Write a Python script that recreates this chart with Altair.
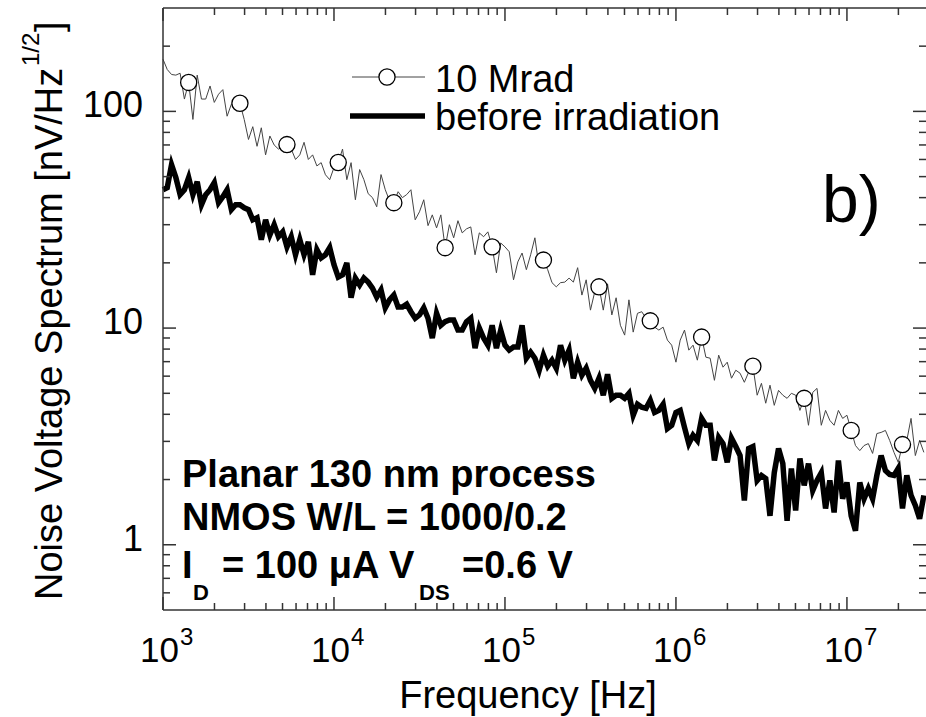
import altair as alt
import pandas as pd

# ---------------- data ----------------
FREQ = [
    1000, 1059, 1122, 1189, 1259, 1334, 1413, 1496, 1585, 1679,
    1778, 1884, 1995, 2113, 2239, 2371, 2512, 2661, 2818, 2985,
    3162, 3350, 3548, 3758, 3981, 4217, 4467, 4732, 5012, 5309,
    5623, 5957, 6310, 6683, 7079, 7499, 7943, 8414, 8913, 9441,
    1.000e4, 1.059e4, 1.122e4, 1.189e4, 1.259e4, 1.334e4, 1.413e4, 1.496e4, 1.585e4, 1.679e4,
    1.778e4, 1.884e4, 1.995e4, 2.113e4, 2.239e4, 2.371e4, 2.512e4, 2.661e4, 2.818e4, 2.985e4,
    3.162e4, 3.350e4, 3.548e4, 3.758e4, 3.981e4, 4.217e4, 4.467e4, 4.732e4, 5.012e4, 5.309e4,
    5.623e4, 5.957e4, 6.310e4, 6.683e4, 7.079e4, 7.499e4, 7.943e4, 8.414e4, 8.913e4, 9.441e4,
    1.000e5, 1.059e5, 1.122e5, 1.189e5, 1.259e5, 1.334e5, 1.413e5, 1.496e5, 1.585e5, 1.679e5,
    1.778e5, 1.884e5, 1.995e5, 2.113e5, 2.239e5, 2.371e5, 2.512e5, 2.661e5, 2.818e5, 2.985e5,
    3.162e5, 3.350e5, 3.548e5, 3.758e5, 3.981e5, 4.217e5, 4.467e5, 4.732e5, 5.012e5, 5.309e5,
    5.623e5, 5.957e5, 6.310e5, 6.683e5, 7.079e5, 7.499e5, 7.943e5, 8.414e5, 8.913e5, 9.441e5,
    1.000e6, 1.059e6, 1.122e6, 1.189e6, 1.259e6, 1.334e6, 1.413e6, 1.496e6, 1.585e6, 1.679e6,
    1.778e6, 1.884e6, 1.995e6, 2.113e6, 2.239e6, 2.371e6, 2.512e6, 2.661e6, 2.818e6, 2.985e6,
    3.162e6, 3.350e6, 3.548e6, 3.758e6, 3.981e6, 4.217e6, 4.467e6, 4.732e6, 5.012e6, 5.309e6,
    5.623e6, 5.957e6, 6.310e6, 6.683e6, 7.079e6, 7.499e6, 7.943e6, 8.414e6, 8.913e6, 9.441e6,
    1.000e7, 1.059e7, 1.122e7, 1.189e7, 1.259e7, 1.334e7, 1.413e7, 1.496e7, 1.585e7, 1.679e7,
    1.778e7, 1.884e7, 1.995e7, 2.113e7, 2.239e7, 2.371e7, 2.512e7, 2.661e7, 2.818e7,
]

MRAD_10 = [
    174, 156, 148, 147, 150, 114, 136, 91.8, 147, 114,
    114, 131, 110, 120, 126, 95, 108, 104, 109, 91.8,
    74.2, 85, 69, 84, 63, 77, 70, 67, 69, 70.3,
    67, 60, 63, 72, 60, 63, 56, 58, 51, 48.4,
    55, 58.1, 67, 48.4, 58, 39.1, 53.9, 48.4, 41.7, 40.0,
    36.3, 51.1, 43.5, 38.7, 37.9, 42.6, 40.0, 41.3, 43.5, 31.6,
    34.4, 39.1, 29.7, 33.3, 29.0, 33.3, 23.5, 30.0, 26.1, 31.3,
    27.5, 28.7, 29.3, 21.8, 27.5, 26.4, 27.8, 23.7, 18.0, 24.7,
    23.7, 22.5, 16.7, 20.2, 22.2, 18.6, 21.8, 26.1, 19.0, 20.6,
    18.6, 16.2, 15.5, 16.2, 16.3, 17.0, 16.3, 19.0, 14.2, 16.7,
    12.1, 14.7, 15.5, 12.1, 16.0, 11.5, 13.8, 10.3, 9.28, 13.5,
    9.58, 11.7, 11.9, 11.1, 10.8, 10.1, 9.79, 10.1, 8.80, 8.34,
    6.96, 8.80, 9.79, 7.91, 8.34, 7.11, 9.09, 7.34, 7.26, 5.74,
    7.50, 6.60, 6.96, 5.87, 6.39, 6.19, 5.62, 6.26, 6.67, 4.90,
    5.56, 4.50, 5.45, 4.40, 5.16, 4.90, 4.74, 5.00, 4.90, 4.17,
    4.74, 3.56, 5.05, 5.27, 3.56, 4.17, 3.75, 3.56, 4.17, 3.83,
    3.96, 3.37, 2.87, 2.72, 2.87, 2.93, 2.64, 3.26, 3.30, 3.37,
    3.03, 2.67, 2.40, 2.90, 3.03, 3.83, 2.58, 3.03, 2.67,
]

BEFORE = [
    43.5, 44.5, 56.8, 49.5, 41.3, 43.5, 49.5, 41.3, 47.4, 37.1,
    41.3, 43.5, 46.9, 37.9, 40.4, 43.5, 35.2, 37.1, 37.1, 35.9,
    35.2, 31.6, 32.3, 25.6, 31.6, 26.9, 30.0, 26.4, 27.8, 23.7,
    26.4, 21.8, 25.6, 21.8, 25.0, 17.6, 23.0, 21.1, 21.8, 23.5,
    19.6, 17.2, 17.6, 20.0, 13.8, 17.0, 15.8, 17.0, 16.3, 15.3,
    13.9, 15.0, 12.4, 13.5, 14.2, 12.5, 12.5, 12.9, 11.9, 11.1,
    11.5, 12.4, 11.1, 8.99, 11.7, 10.3, 10.7, 10.9, 10.9, 9.79,
    9.79, 10.7, 11.1, 8.08, 10.0, 8.99, 8.34, 10.3, 8.08, 9.79,
    8.34, 7.91, 8.17, 8.17, 10.3, 7.26, 7.74, 7.26, 6.39, 7.50,
    6.67, 7.11, 6.53, 8.34, 7.11, 7.91, 5.87, 6.96, 6.06, 6.53,
    5.74, 5.27, 5.87, 4.90, 6.12, 4.74, 4.90, 4.90, 4.74, 5.00,
    3.96, 4.45, 4.31, 4.26, 4.64, 4.08, 4.17, 4.45, 3.44, 3.56,
    4.08, 4.17, 3.48, 2.93, 3.20, 3.03, 3.83, 3.56, 3.56, 2.45,
    3.13, 2.93, 2.40, 3.10, 2.84, 2.58, 1.60, 2.78, 2.84, 1.98,
    2.09, 2.02, 1.36, 2.15, 2.78, 2.37, 1.29, 2.25, 1.44, 2.50,
    1.88, 2.37, 1.78, 1.98, 2.15, 1.47, 1.98, 1.41, 2.45, 1.63,
    1.94, 1.36, 1.16, 1.94, 1.63, 1.82, 1.63, 2.09, 2.58, 2.20,
    2.11, 2.09, 2.25, 1.47, 2.09, 1.69, 1.52, 1.32, 1.69,
]

MARK_FREQ = [1413, 2818, 5309, 1.059e4, 2.239e4, 4.467e4, 8.414e4, 1.679e5,
             3.548e5, 7.079e5, 1.413e6, 2.818e6, 5.623e6, 1.059e7, 2.113e7]
MARK_VAL = [136, 109, 70.3, 58.1, 37.9, 23.5, 23.7, 20.6,
            15.5, 10.8, 9.09, 6.67, 4.74, 3.37, 2.90]

X_MAJOR = [1e3, 1e4, 1e5, 1e6, 1e7]
X_MAJOR_EXP = ["3", "4", "5", "6", "7"]
X_MINOR = [2e3, 3e3, 4e3, 5e3, 6e3, 7e3, 8e3, 9e3,
           2e4, 3e4, 4e4, 5e4, 6e4, 7e4, 8e4, 9e4,
           2e5, 3e5, 4e5, 5e5, 6e5, 7e5, 8e5, 9e5,
           2e6, 3e6, 4e6, 5e6, 6e6, 7e6, 8e6, 9e6,
           2e7]
Y_MAJOR = [1, 10, 100]
Y_MAJOR_LABEL = ["1", "10", "100"]
Y_MINOR = [0.6, 0.7, 0.8, 0.9, 2, 3, 4, 5, 6, 7, 8, 9,
           20, 30, 40, 50, 60, 70, 80, 90, 200]

# ---------------- chart ----------------
W, H = 763, 602
FONT = "Liberation Sans"
AX = "#333333"
xs = alt.Scale(type="log", domain=[1000, 2.9e7])
ys = alt.Scale(type="log", domain=[0.5, 300])

df = pd.DataFrame({"f": FREQ, "mrad": MRAD_10, "before": BEFORE})
mk = pd.DataFrame({"f": MARK_FREQ, "v": MARK_VAL})

thin = alt.Chart(df).mark_line(color="#444444", strokeWidth=1).encode(
    x=alt.X("f:Q", scale=xs, axis=None),
    y=alt.Y("mrad:Q", scale=ys, axis=None),
)
marks = alt.Chart(mk).mark_point(
    shape="circle", filled=True, fill="white", stroke="black",
    strokeWidth=1.3, size=260, opacity=1,
).encode(x=alt.X("f:Q", scale=xs, axis=None), y=alt.Y("v:Q", scale=ys, axis=None))
thick = alt.Chart(df).mark_line(color="black", strokeWidth=5.5).encode(
    x=alt.X("f:Q", scale=xs, axis=None),
    y=alt.Y("before:Q", scale=ys, axis=None),
)


def xticks(vals, length, top):
    y0, y1 = (0, length) if top else (H, H - length)
    return alt.Chart(pd.DataFrame({"v": vals})).mark_rule(color=AX, strokeWidth=1.5).encode(
        x=alt.X("v:Q", scale=xs, axis=None), y=alt.value(y0), y2=alt.value(y1))


def yticks(vals, length, right):
    x0, x1 = (W, W - length) if right else (0, length)
    return alt.Chart(pd.DataFrame({"v": vals})).mark_rule(color=AX, strokeWidth=1.5).encode(
        y=alt.Y("v:Q", scale=ys, axis=None), x=alt.value(x0), x2=alt.value(x1))


ticks = [
    xticks(X_MAJOR, 13, False), xticks(X_MINOR, 7, False),
    xticks(X_MAJOR, 13, True), xticks(X_MINOR, 7, True),
    yticks(Y_MAJOR, 13, False), yticks(Y_MINOR, 7, False),
    yticks(Y_MAJOR, 13, True), yticks(Y_MINOR, 7, True),
]

dummy = pd.DataFrame({"a": [0]})
frame = [
    alt.Chart(dummy).mark_rule(color=AX, strokeWidth=1.5).encode(
        x=alt.value(0), x2=alt.value(W + 2), y=alt.value(0)),
    alt.Chart(dummy).mark_rule(color=AX, strokeWidth=1.5).encode(
        x=alt.value(0), x2=alt.value(W + 2), y=alt.value(H)),
    alt.Chart(dummy).mark_rule(color=AX, strokeWidth=1.5).encode(
        x=alt.value(0), y=alt.value(0), y2=alt.value(H)),
]

xl = pd.DataFrame({"v": X_MAJOR, "e": X_MAJOR_EXP})
xlab10 = alt.Chart(xl).mark_text(
    text="10", align="right", baseline="alphabetic", dx=16, fontSize=35, font=FONT, color="black"
).encode(x=alt.X("v:Q", scale=xs, axis=None), y=alt.value(654))
xlabexp = alt.Chart(xl).mark_text(
    align="left", baseline="alphabetic", dx=17, fontSize=24, font=FONT, color="black"
).encode(x=alt.X("v:Q", scale=xs, axis=None), y=alt.value(637), text="e:N")

yl = pd.DataFrame({"v": Y_MAJOR, "l": Y_MAJOR_LABEL})
ylab = alt.Chart(yl).mark_text(
    align="right", baseline="alphabetic", dy=6, fontSize=36, font=FONT, color="black"
).encode(y=alt.Y("v:Q", scale=ys, axis=None), x=alt.value(-20), text="l:N")


def label(txt, x, y, size, weight="normal", align="left", angle=None):
    props = dict(align=align, baseline="alphabetic", fontSize=size, fontWeight=weight,
                 font=FONT, color="black")
    if angle is not None:
        props["angle"] = angle
    return alt.Chart(pd.DataFrame({"t": [txt]})).mark_text(**props).encode(
        text="t:N", x=alt.value(x), y=alt.value(y))


texts = [
    label("Frequency [Hz]", 365, 700, 38, align="center"),
    label("Noise Voltage Spectrum [nV/Hz", -101, 592, 38, angle=270),
    label("1/2", -124, 58, 24, angle=270),
    label("]", -101, 24, 38, angle=270),
    label("10 Mrad", 272, 84, 38),
    label("before irradiation", 272, 122, 38),
    label("b)", 659, 214, 66),
    label("Planar 130 nm process", 19, 479, 38, weight="bold"),
    label("NMOS W/L = 1000/0.2", 19, 522, 38, weight="bold"),
    label("I", 19, 570, 38, weight="bold"),
    label("D", 30, 592, 22, weight="bold"),
    label("= 100 \u03bcA", 59, 570, 38, weight="bold"),
    label("V", 226, 570, 38, weight="bold"),
    label("DS", 256, 592, 22, weight="bold"),
    label("=0.6 V", 299, 570, 38, weight="bold"),
]

leg_thin = alt.Chart(dummy).mark_rule(color="#444444", strokeWidth=1).encode(
    x=alt.value(189), x2=alt.value(262), y=alt.value(69))
leg_circ = alt.Chart(dummy).mark_point(
    shape="circle", filled=True, fill="white", stroke="black", strokeWidth=1.3, size=260, opacity=1
).encode(x=alt.value(224), y=alt.value(69))
leg_thick = alt.Chart(dummy).mark_rule(color="black", strokeWidth=5.5).encode(
    x=alt.value(187), x2=alt.value(262), y=alt.value(108))

chart = alt.layer(
    thin, marks, thick, *ticks, *frame, xlab10, xlabexp, ylab,
    leg_thin, leg_circ, leg_thick, *texts
).properties(
    width=W, height=H,
    autosize=alt.AutoSizeParams(type="none"),
    padding={"left": 163, "top": 8, "right": 0, "bottom": 107},
).configure_view(strokeWidth=0)

chart.save("out.html", embed_options={"renderer": "svg", "actions": False})
